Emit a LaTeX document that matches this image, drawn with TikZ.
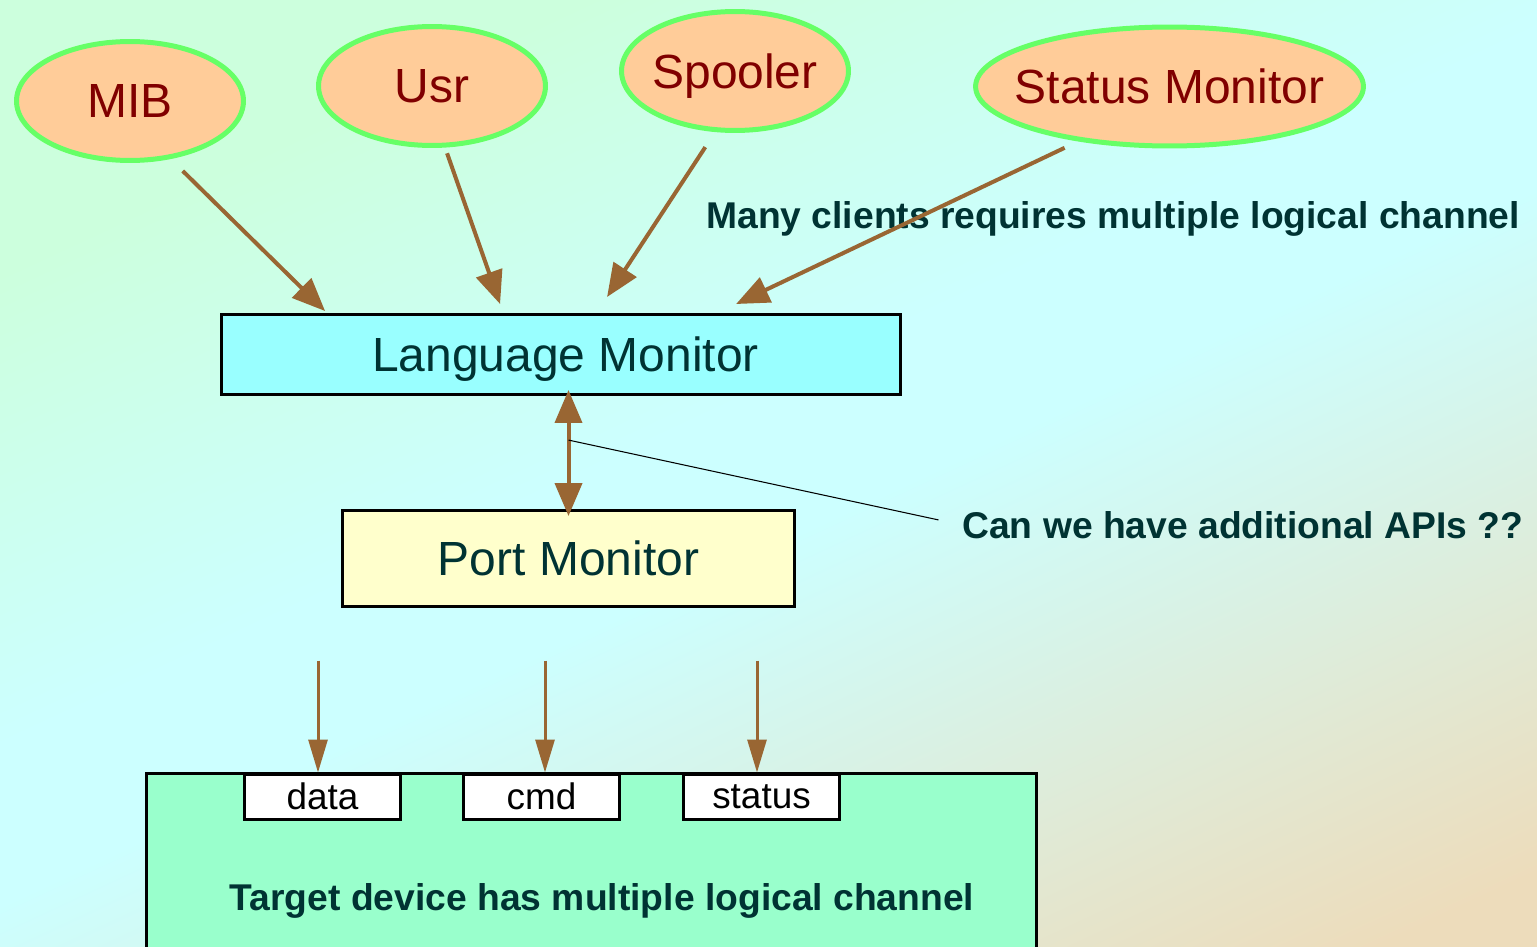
\documentclass[tikz,border=0pt]{standalone}
\usepackage{fontspec}
\setmainfont{Liberation Sans}
\usetikzlibrary{arrows.meta,calc,shapes.geometric}

\definecolor{bggreen}{HTML}{CCFFDD}
\definecolor{bgcyan}{HTML}{CCFFFF}
\definecolor{bgtan}{HTML}{EDDCBB}
\definecolor{peach}{HTML}{FFCC99}
\definecolor{ringgreen}{HTML}{66FF66}
\definecolor{darkred}{HTML}{800000}
\definecolor{inkteal}{HTML}{003333}
\definecolor{lmcyan}{HTML}{99FFFF}
\definecolor{pmyellow}{HTML}{FFFFCC}
\definecolor{devgreen}{HTML}{99FFCC}
\definecolor{arrowbrown}{HTML}{996633}

\pgfdeclareverticalshading{backdrop}{1134bp}{color(0bp)=(bgtan); color(120bp)=(bgtan); color(473bp)=(bgcyan); color(553bp)=(bgcyan); color(797bp)=(bggreen); color(1020bp)=(bggreen)}

\tikzset{
  bigtip/.tip={Triangle[length=0.66cm,width=0.54cm]},
  smalltip/.tip={Triangle[length=0.66cm,width=0.38cm]},
  client/.style={ellipse, draw=ringgreen, line width=0.1cm, fill=peach, text=darkred,
    inner ysep=0pt, inner xsep=-0.05cm, minimum width=4.54cm, minimum height=2.38cm,
    text depth=0pt, font=\fontsize{27.3}{32}\selectfont},
  monbox/.style={draw=black, line width=0.06cm, text=inkteal, inner sep=0pt,
    text depth=0pt, font=\fontsize{27.3}{32}\selectfont},
  portbox/.style={draw=black, line width=0.06cm, fill=white, inner sep=0pt,
    minimum width=3.14cm, minimum height=0.9cm, text depth=0pt,
    font=\fontsize{21}{25}\selectfont},
  remark/.style={text=inkteal, inner sep=0pt, text depth=0pt,
    font=\fontsize{21.2}{25}\selectfont\bfseries},
  flow/.style={draw=arrowbrown, line width=0.08cm, -bigtip},
  portflow/.style={draw=arrowbrown, line width=0.06cm, -smalltip}
}

\begin{document}
\begin{tikzpicture}[x=0.02cm, y=-0.02cm]
    \clip (0,0) rectangle (1537,946);
    \node [inner sep=0pt, rotate=25] (backdrop) at (768.5,473) {\pgfuseshading{backdrop}};

    \node [monbox, fill=devgreen, minimum width=17.8cm, minimum height=5.08cm] (dev) at (591.5,900) {};
    \node [remark] (devtext) at (602,897) {Target device has multiple logical channel};
    \node [portbox] (data) at (322.5,796.5) {data};
    \node [portbox] (cmd) at (541.5,796.5) {cmd};
    \node [portbox] (status) at (761.5,796.5) {status};

    \node [client] (mib) at (130,101) {MIB};
    \node [client] (usr) at (432,86) {Usr};
    \node [client] (spool) at (735,71) {Spooler};
    \node [client, minimum width=7.72cm, inner xsep=-0.35cm] (stmon) at (1169.5,86.5) {Status Monitor};

    \node [monbox, fill=lmcyan, minimum width=13.58cm, minimum height=1.6cm] (lm) at (561,354.5) {\hspace*{0.18cm}Language Monitor};
    \node [monbox, fill=pmyellow, minimum width=9.04cm, minimum height=1.92cm] (pm) at (568.5,558.5) {Port Monitor};

    \node [remark, anchor=west] (many) at (706,215.5) {Many clients requires multiple logical channel};
    \node [remark, anchor=west] (apis) at (962,525) {Can we have additional APIs ??};

    \draw [flow, shorten <=0.34cm] (mib.-55) -- ($(lm.north west)+(105,-2)$);
    \draw [flow, shorten <=0.12cm] (usr.-78) -- ($(lm.north west)+(280,-9)$);
    \draw [flow, shorten <=0.36cm] (spool.252) -- ($(lm.north west)+(387,-16)$);
    \draw [flow, shorten <=0.3cm] (stmon.211) -- ($(lm.north west)+(516,-9)$);

    \draw [flow, bigtip-bigtip, shorten <=-0.12cm, shorten >=-0.14cm] (pm.north |- lm.south) -- (pm.north);
    \coordinate (tap) at ($(pm.north |- lm.south)!0.39!(pm.north)$);
    \draw [black, line width=0.6pt, shorten >=0.48cm] (tap) -- (apis.west);

    \foreach \port/\dx in {data/-4.5,cmd/3.5,status/-4.5} {
      \draw [portflow] ($(\port.north)+(\dx,-112)$) -- ($(\port.north)+(\dx,0)$);
    }
  \end{tikzpicture}
\end{document}
